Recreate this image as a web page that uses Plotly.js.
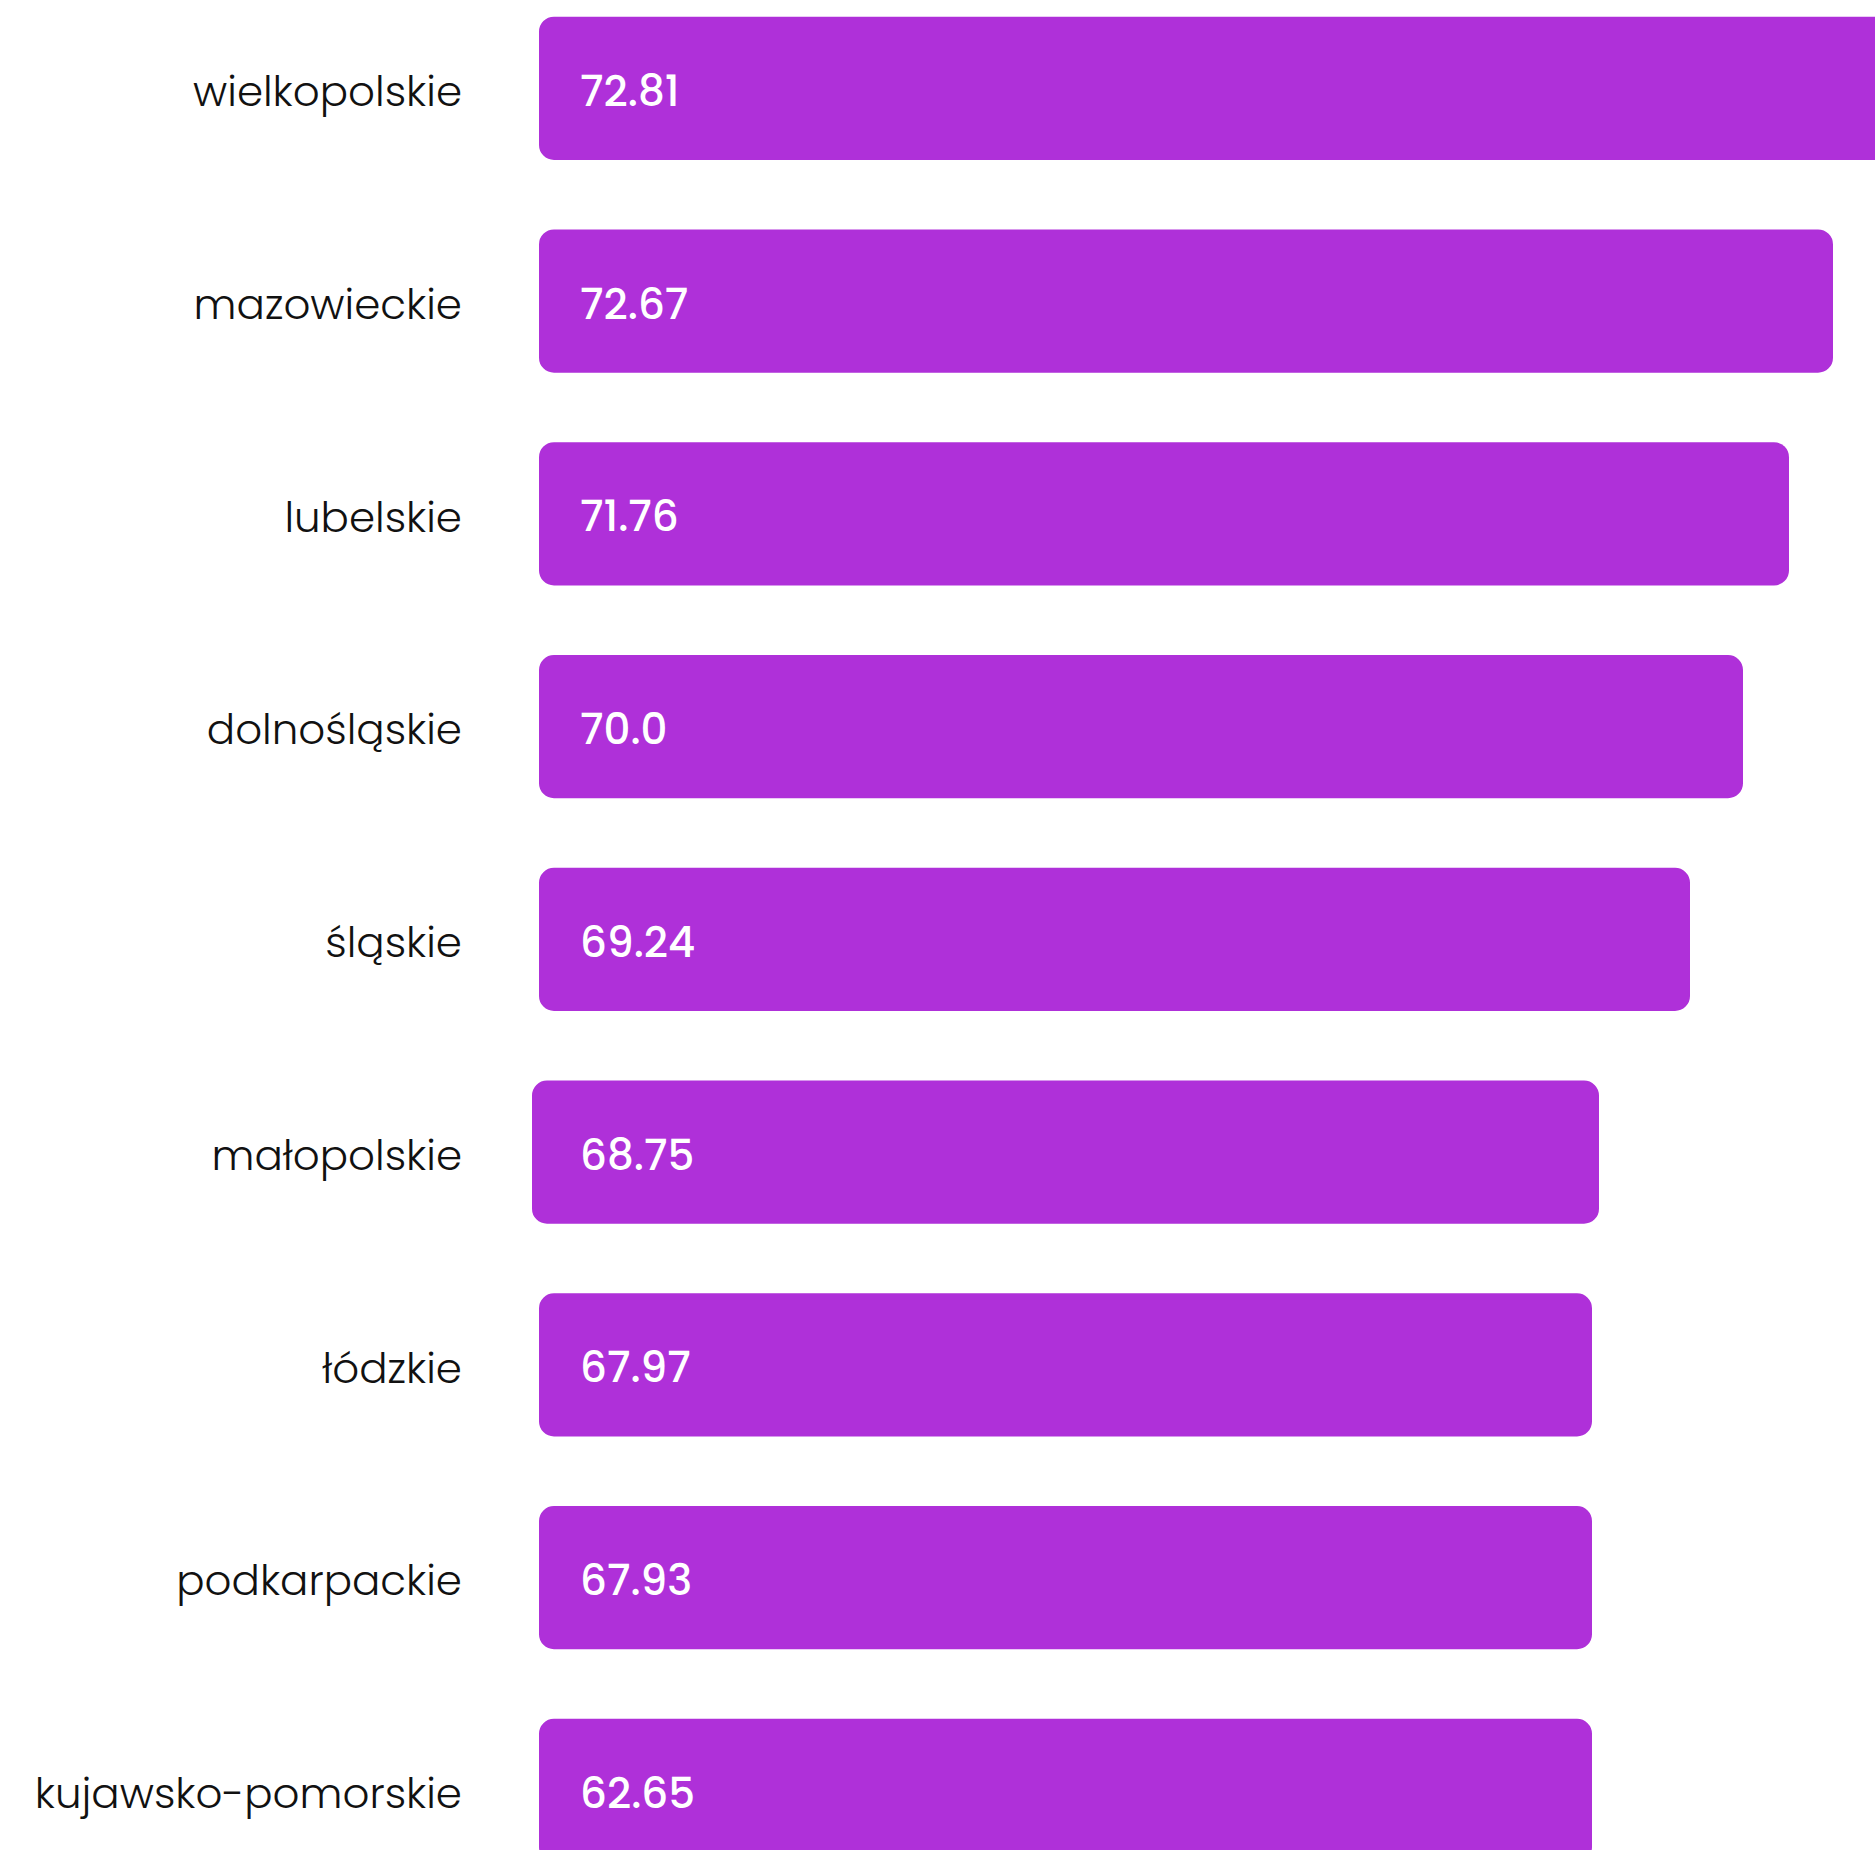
<!DOCTYPE html>
<html>
<head>
<meta charset="utf-8">
<script src="https://cdn.plot.ly/plotly-3.0.1.min.js"></script>
<style>
html, body { margin: 0; padding: 0; background: #ffffff; overflow: hidden; }
#chart { width: 1875px; height: 1850px; }
</style>
</head>
<body>
<div id="chart"></div>
<script>
// Categories (top to bottom)
const regions = ["wielkopolskie", "mazowieckie", "lubelskie", "dolnośląskie", "śląskie",
                 "małopolskie", "łódzkie", "podkarpackie", "kujawsko-pomorskie"];
// Values printed on the bars
const values = [72.81, 72.67, 71.76, 70.0, 69.24, 68.75, 67.97, 67.93, 62.65];
// Right ends of the drawn bars (bars are not proportional to the printed values)
const barEnds = [1400, 1264, 1220, 1174, 1121, 1030, 1023, 1023, 1023];
// Left ends of the drawn bars (rounded left caps)
const barStarts = [-30, -30, -30, -30, -30, -37, -30, -30, -30];

const valueLabels = values.map(v => (Number.isInteger(v) ? v.toFixed(1) : v.toFixed(2)));

const barColor = "#AF30D9";
const fontFamily = "Poppins, Lato, 'Open Sans', sans-serif";

const rightPart = {
  type: "bar",
  orientation: "h",
  y: regions,
  x: barEnds,
  marker: { color: barColor, cornerradius: 15, line: { width: 0 } },
  hoverinfo: "skip",
  cliponaxis: true
};

const leftPart = {
  type: "bar",
  orientation: "h",
  y: regions,
  x: barStarts,
  marker: { color: barColor, cornerradius: 15, line: { width: 0 } },
  hoverinfo: "skip",
  cliponaxis: true
};

const annotations = regions.map((r, i) => ({
  xref: "x", yref: "y",
  x: 0, y: r,
  xanchor: "left", yanchor: "middle",
  xshift: 9,
  yshift: -3,
  text: valueLabels[i],
  showarrow: false,
  font: { family: fontFamily, size: 42, color: "#ffffff", weight: 500 }
}));

const layout = {
  width: 1875,
  height: 1850,
  margin: { l: 532, r: 0, t: 0, b: 0, pad: 0 },
  paper_bgcolor: "#ffffff",
  plot_bgcolor: "#ffffff",
  showlegend: false,
  barmode: "relative",
  bargap: 0.327,
  xaxis: {
    range: [-37, 1306],
    showgrid: false, zeroline: false, showline: false, showticklabels: false, ticks: ""
  },
  yaxis: {
    type: "category",
    range: [8.28, -0.415],
    showgrid: false, zeroline: false, showline: false, ticks: "",
    ticklabelstandoff: 69,
    ticklabelshift: -3,
    tickfont: { family: fontFamily, size: 42, color: "#111111", weight: 300 }
  },
  annotations: annotations
};

Plotly.newPlot("chart", [leftPart, rightPart], layout, { displayModeBar: false, staticPlot: true });
</script>
</body>
</html>
